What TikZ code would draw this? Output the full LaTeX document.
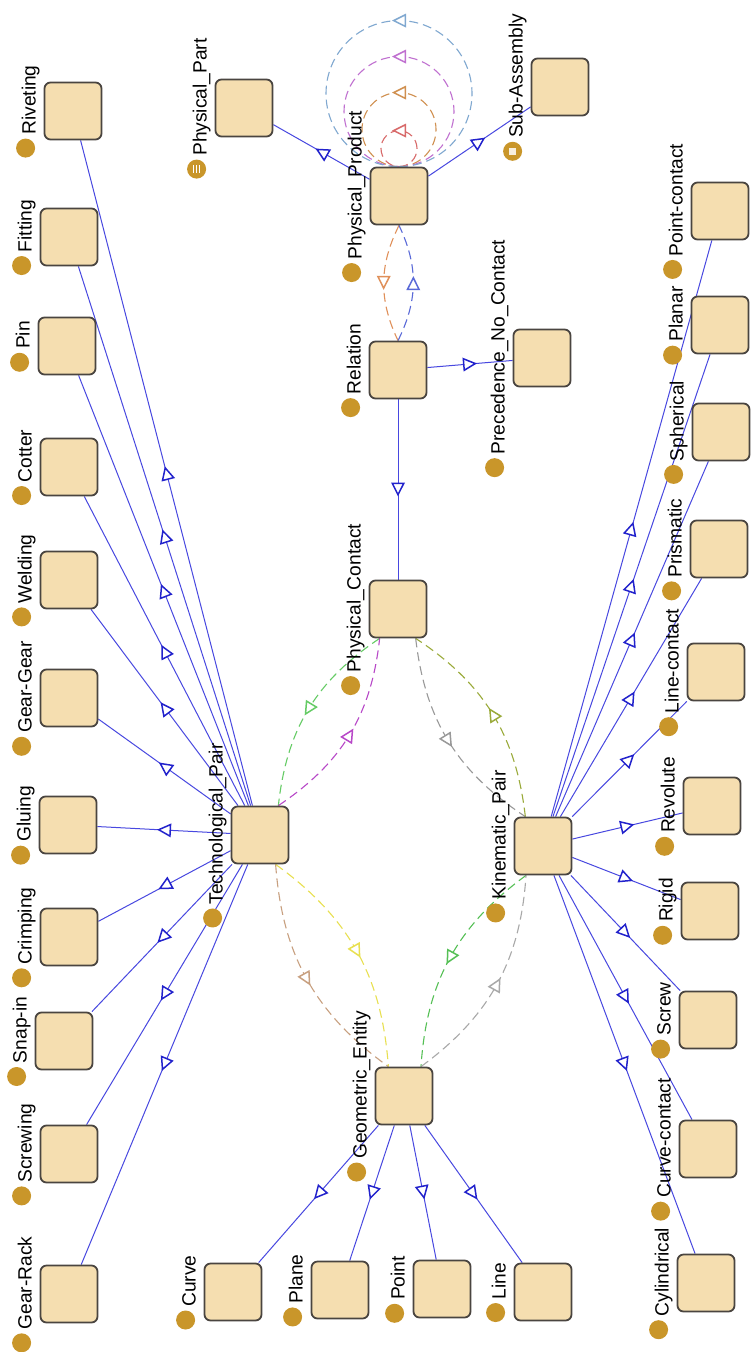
\documentclass[tikz,border=0pt]{standalone}
\usepackage{fontspec}
\setmainfont{Liberation Sans}
\usetikzlibrary{arrows.meta,decorations.markings,calc}
\definecolor{boxfill}{HTML}{F5DEB0}
\definecolor{boxdraw}{HTML}{4A4540}
\definecolor{icongold}{HTML}{C9962A}
\definecolor{subblue}{HTML}{4848E0}
\definecolor{triblue}{HTML}{2222CC}
\definecolor{cOrange}{HTML}{E0905A}
\definecolor{cBlueD}{HTML}{5A6AD8}
\definecolor{cGreen}{HTML}{66CC66}
\definecolor{cMagenta}{HTML}{B848C8}
\definecolor{cGray}{HTML}{999999}
\definecolor{cOlive}{HTML}{9AAA3A}
\definecolor{cTan}{HTML}{C8A080}
\definecolor{cYellow}{HTML}{E8E050}
\definecolor{cGreenB}{HTML}{55C055}
\definecolor{cGrayB}{HTML}{A8A8A8}
\definecolor{cLoopRed}{HTML}{D86A6A}
\definecolor{cLoopOrange}{HTML}{D09050}
\definecolor{cLoopPurple}{HTML}{C070D0}
\definecolor{cLoopBlue}{HTML}{80A8D0}
\pgfdeclarelayer{bg}
\pgfsetlayers{bg,main}
\tikzset{
  cls/.style={draw=boxdraw, fill=boxfill, line width=0.9pt, rounded corners=3pt,
    minimum size=28.5pt, inner sep=0pt},
  lbl/.style={font=\fontsize{9.6pt}{11pt}\selectfont, text=black, inner sep=0pt,
    rotate=90, anchor=base},
  midtri/.style={postaction={decorate}, decoration={markings,
    mark=at position 0.5 with {\arrow[xshift=3.5pt]{Triangle[color=#1, open, fill=white, length=7pt, width=6.8pt, line width=0.75pt]}}}},
  subedge/.style={draw=subblue, line width=0.5pt, midtri=triblue},
  prop/.style={draw=#1, line width=0.55pt, dash pattern=on 4.5pt off 2.5pt, midtri=#1},
}
\newcommand\ontnode[4]{%
  \node[cls] (#1) at (#2,#3) {};
  \node[lbl] (#1-l) at ($(#1.west)+(-8,-11)$) {#4};
  \fill[icongold] ($(#1-l.base west)+(-10,13)$) coordinate (#1-i) circle (4.75pt);
}
\begin{document}
\begin{tikzpicture}[x=0.5pt,y=-0.5pt]
\useasboundingbox (0,0) rectangle (751,1352);
% nodes
\ontnode{riveting}{73}{111}{Riveting}
\ontnode{fitting}{69}{237}{Fitting}
\ontnode{pin}{67}{346}{Pin}
\ontnode{cotter}{69}{467}{Cotter}
\ontnode{welding}{69}{580}{Welding}
\ontnode{geargear}{69}{698}{Gear-Gear}
\ontnode{gluing}{68}{825}{Gluing}
\ontnode{crimping}{69}{937}{Crimping}
\ontnode{snapin}{64}{1041}{Snap-in}
\ontnode{screwing}{69}{1154}{Screwing}
\ontnode{gearrack}{69}{1294}{Gear-Rack}
\ontnode{tp}{260}{835}{Technological\_Pair}
\ontnode{pp}{399}{196}{Physical\_Product}
\ontnode{ppart}{244}{108}{Physical\_Part}
\ontnode{subasm}{560}{87}{Sub-Assembly}
\ontnode{rel}{398}{370}{Relation}
\ontnode{prec}{542}{358}{Precedence\_No\_Contact}
\ontnode{pc}{398}{609}{Physical\_Contact}
\ontnode{ge}{404}{1096}{Geometric\_Entity}
\ontnode{ncurve}{233}{1292}{Curve}
\ontnode{nplane}{340}{1290}{Plane}
\ontnode{npoint}{442}{1289}{Point}
\ontnode{nline}{543}{1292}{Line}
\ontnode{ptc}{720}{211}{Point-contact}
\ontnode{planar}{720}{325}{Planar}
\ontnode{spherical}{721}{432}{Spherical}
\ontnode{prismatic}{719}{549}{Prismatic}
\ontnode{linec}{716}{672}{Line-contact}
\ontnode{revolute}{712}{806}{Revolute}
\ontnode{rigid}{710}{911}{Rigid}
\ontnode{screw}{708}{1020}{Screw}
\ontnode{curvec}{708}{1149}{Curve-contact}
\ontnode{cyl}{706}{1283}{Cylindrical}
\ontnode{kp}{543}{846}{Kinematic\_Pair}
% special icon marks
\draw[white, line width=0.6pt] ($(ppart-i)+(-3,-4)$) -- ($(ppart-i)+(-3,4)$)
  ($(ppart-i)+(0,-4)$) -- ($(ppart-i)+(0,4)$)
  ($(ppart-i)+(3,-4)$) -- ($(ppart-i)+(3,4)$);
\fill[white!85!icongold] ($(subasm-i)+(-3.5,-3.5)$) rectangle ($(subasm-i)+(3.5,3.5)$);
\begin{pgfonlayer}{bg}
\fill[white] (0,0) rectangle (751,1352);
% subclass edges
\foreach \c in {riveting,fitting,pin,cotter,welding,geargear,gluing,crimping,snapin,screwing,gearrack}
  {\draw[subedge] (tp) -- (\c);}
\foreach \c in {ptc,planar,spherical,prismatic,linec,revolute,rigid,screw,curvec,cyl}
  {\draw[subedge] (kp) -- (\c);}
\foreach \c in {ncurve,nplane,npoint,nline}
  {\draw[subedge] (ge) -- (\c);}
\draw[subedge] (pp) -- (ppart);
\draw[subedge] (pp) -- (subasm);
\draw[subedge] (rel) -- (prec);
\draw[subedge] (rel) -- (pc);
% object property edges
\draw[prop=cOrange] (pp.south) to[bend right=26] (rel.north);
\draw[prop=cBlueD] (rel.north) to[bend right=26] (pp.south);
\draw[prop=cGreen] (pc.238.6) to[bend right=25] (tp.58.6);
\draw[prop=cMagenta] (tp.58.6) to[bend right=25] (pc.238.6);
\draw[prop=cGray] (pc.301.5) to[bend right=25] (kp.121.5);
\draw[prop=cOlive] (kp.121.5) to[bend right=25] (pc.301.5);
\draw[prop=cTan] (tp.298.9) to[bend right=25] (ge.118.9);
\draw[prop=cYellow] (tp.298.9) to[bend left=25] (ge.118.9);
\draw[prop=cGreenB] (kp.240.9) to[bend right=25] (ge.60.9);
\draw[prop=cGrayB] (ge.60.9) to[bend right=25] (kp.240.9);
% self loops on Physical_Product
\draw[prop=cLoopRed] (pp.north) arc[start angle=-90, end angle=270, radius=9pt];
\draw[prop=cLoopOrange] (pp.north) arc[start angle=-90, end angle=270, radius=18.5pt];
\draw[prop=cLoopPurple] (pp.north) arc[start angle=-90, end angle=270, radius=27.5pt];
\draw[prop=cLoopBlue] (pp.north) arc[start angle=-90, end angle=270, radius=36.5pt];
\end{pgfonlayer}
\end{tikzpicture}
\end{document}
